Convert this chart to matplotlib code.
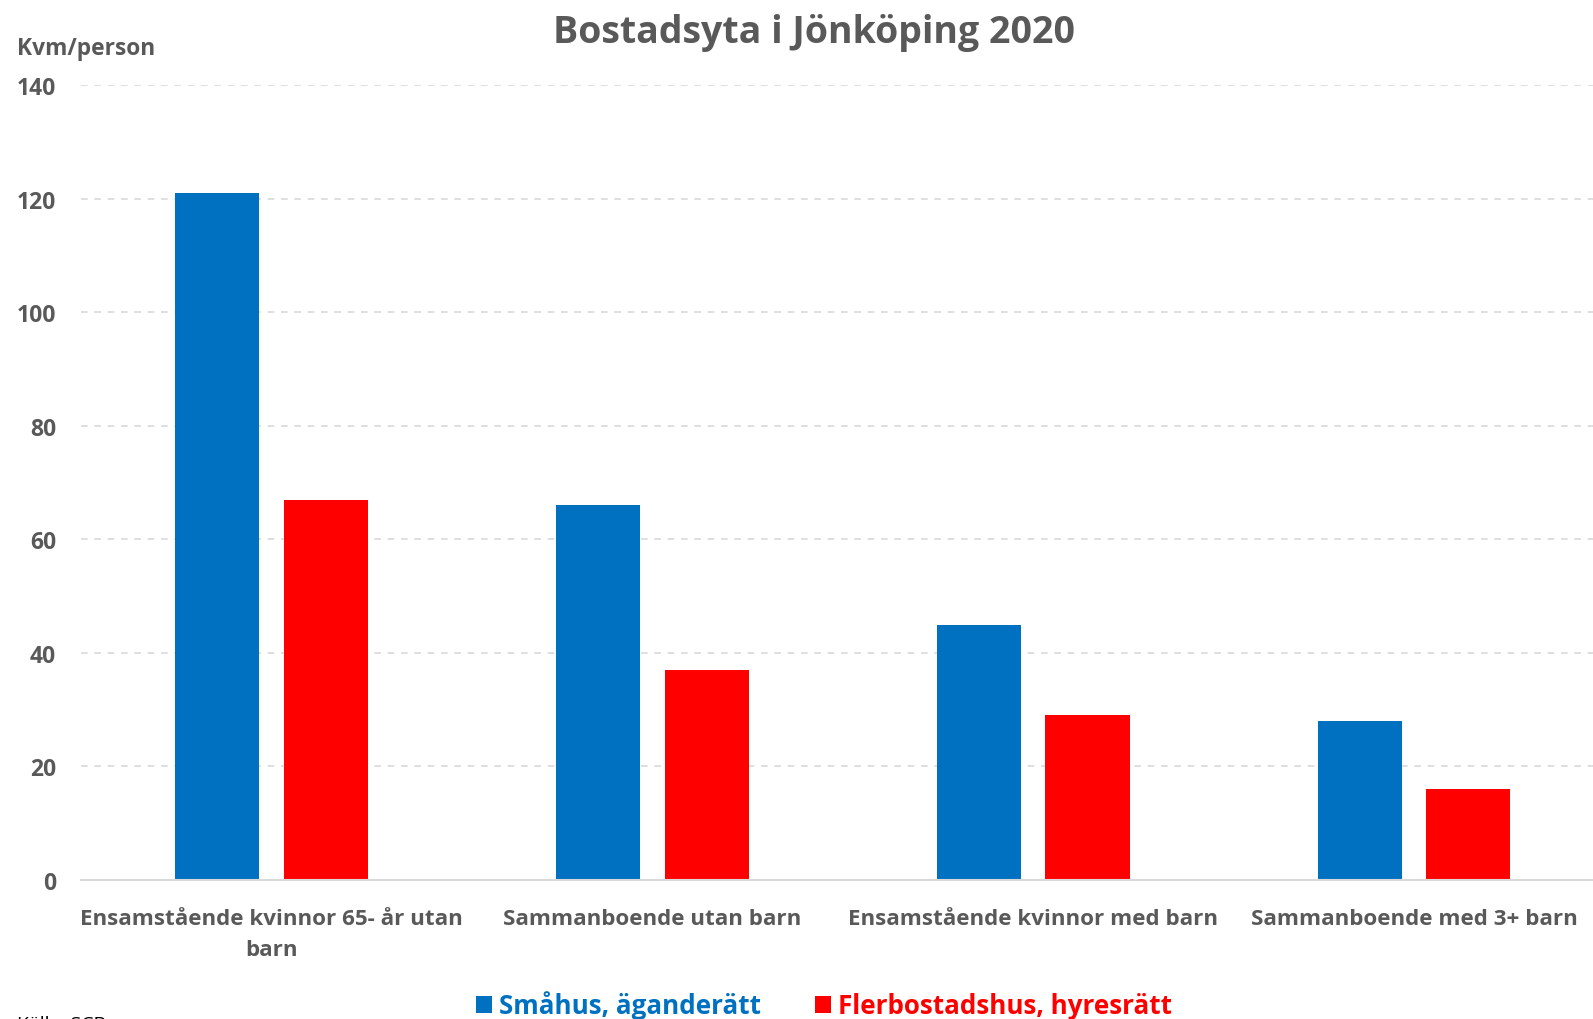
import matplotlib
matplotlib.use("Agg")
import matplotlib.pyplot as plt
import numpy as np

categories = ["Ensamstående kvinnor 65- år utan\nbarn", "Sammanboende utan barn",
              "Ensamstående kvinnor med barn", "Sammanboende med 3+ barn"]
series_names = ["Småhus, äganderätt", "Flerbostadshus, hyresrätt"]
smahus = [121, 66, 45, 28]
flerbostad = [67, 37, 29, 16]
yticks = [0, 20, 40, 60, 80, 100, 120, 140]

BLUE = "#0070C0"
RED = "#FF0000"
GRAY = "#595959"
FONT = "Open Sans"

plt.rcParams['font.family'] = [FONT, 'DejaVu Sans']
plt.rcParams['font.weight'] = 'bold'

W, H = 1593, 1020
fig = plt.figure(figsize=(W / 100, H / 100), dpi=100)
left = 81 / W
right = 1604.5 / W
bottom = 1 - 881 / H
top = 1 - 86.4 / H
ax = fig.add_axes([left, bottom, right - left, top - bottom])

x = np.arange(len(categories))
bw = 0.221
off = 0.1425
ax.bar(x - off, smahus, bw, color=BLUE, label=series_names[0], zorder=3)
ax.bar(x + off, flerbostad, bw, color=RED, label=series_names[1], zorder=3)

ax.set_xlim(-0.5, 3.5)
ax.set_ylim(0, 140)
ax.set_yticks(yticks)
ax.set_yticklabels([str(v) for v in yticks], fontsize=16.5, color=GRAY, fontweight='bold')
ax.set_xticks(x)
ax.set_xticklabels(categories, fontsize=16.1, color=GRAY, fontweight='bold', linespacing=1.62)
ax.tick_params(axis='both', length=0)
ax.tick_params(axis='y', pad=18)
ax.tick_params(axis='x', pad=20)

ax.grid(axis='y', color='#D9D9D9', linestyle=(0, (4, 4)), linewidth=1.2, zorder=0)
for s in ["top", "right", "left"]:
    ax.spines[s].set_visible(False)
ax.spines["bottom"].set_color('#D9D9D9')
ax.spines["bottom"].set_linewidth(1.5)
ax.spines["bottom"].set_zorder(4)

fig.text(814 / W, 1 - 33.5 / H, "Bostadsyta i Jönköping 2020", ha='center', va='center',
         fontsize=27, color=GRAY, fontweight='bold')
fig.text(17 / W, 1 - 49 / H, "Kvm/person", ha='left', va='center',
         fontsize=16.4, color=GRAY, fontweight='bold')
fig.text(17 / W, 1 - 1016 / H, "Källa: SCB", ha='left', va='top',
         fontsize=14, color='#000000', fontweight='normal')

leg = fig.legend(loc='center', bbox_to_anchor=(824 / W, 1 - 1006 / H), ncol=2, frameon=False,
                 fontsize=18.7, handlelength=0.62, handleheight=0.62, handletextpad=0.27,
                 columnspacing=2.07, borderpad=0)
for t, c in zip(leg.get_texts(), [BLUE, RED]):
    t.set_color(c)
    t.set_fontweight('bold')

fig.savefig("out.png", dpi=100)
